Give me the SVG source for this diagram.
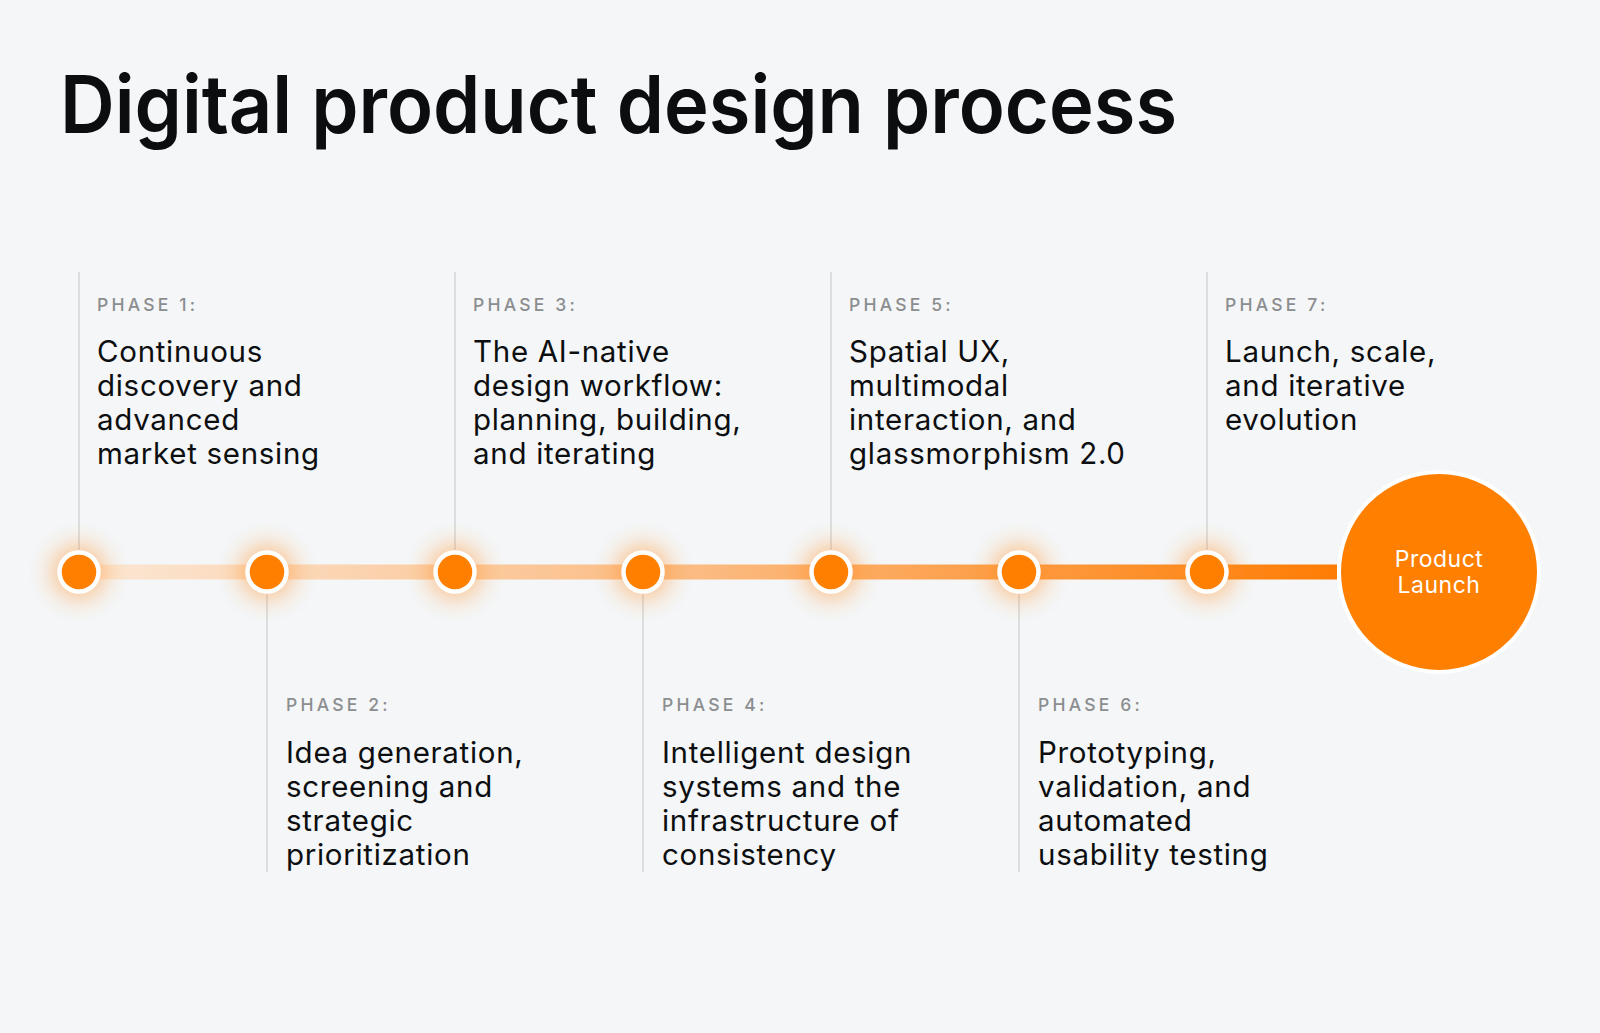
<svg xmlns="http://www.w3.org/2000/svg" width="1600" height="1033" viewBox="0 0 1600 1033">
  <defs>
    <linearGradient id="trackGrad" x1="79" y1="0" x2="1335" y2="0" gradientUnits="userSpaceOnUse">
      <stop offset="0" stop-color="#fbe7d5"/>
      <stop offset="0.5" stop-color="#fbba80"/>
      <stop offset="1" stop-color="#ff7d05"/>
    </linearGradient>
    <filter id="glow" x="-150%" y="-150%" width="400%" height="400%">
      <feGaussianBlur stdDeviation="11"/>
    </filter>
  </defs>
  <style>
    .title { font-family: "Inter", "Liberation Sans", Arial, sans-serif; font-weight: 600; font-size: 80px; fill: #0b0d0f; }
    .label { font-family: "Inter", "Liberation Sans", sans-serif; font-weight: 500; font-size: 17.5px; letter-spacing: 3.2px; fill: #8b8d8f; }
    .body { font-family: "Inter", "Liberation Sans", sans-serif; font-weight: 400; font-size: 29.5px; letter-spacing: 0.7px; fill: #0c0e10; }
    .guide { stroke: #d3d5d7; stroke-width: 1.5; fill: none; }
    .dot { fill: #ff7f00; stroke: #ffffff; stroke-width: 4.5; }
    .halo { fill: #ff8a1a; opacity: 0.45; filter: url(#glow); }
    .launchText { font-family: "Inter", "Liberation Sans", sans-serif; font-weight: 400; font-size: 23px; letter-spacing: 0.5px; fill: #ffffff; text-anchor: middle; }
  </style>

  <rect x="0" y="0" width="1600" height="1033" fill="#f4f6f7"/>

  <text id="title" class="title" x="60" y="133" textLength="1117" lengthAdjust="spacingAndGlyphs">Digital product design process</text>

  <g id="connectors">
    <rect x="79" y="564.5" width="1258" height="15" fill="url(#trackGrad)"/>
    <line class="guide" x1="79" y1="272" x2="79" y2="550"/>
    <line class="guide" x1="455" y1="272" x2="455" y2="550"/>
    <line class="guide" x1="831" y1="272" x2="831" y2="550"/>
    <line class="guide" x1="1207" y1="272" x2="1207" y2="550"/>
    <line class="guide" x1="267" y1="594" x2="267" y2="872"/>
    <line class="guide" x1="643" y1="594" x2="643" y2="872"/>
    <line class="guide" x1="1019" y1="594" x2="1019" y2="872"/>
  </g>

  <g id="phase1">
    <circle class="halo" cx="79" cy="572" r="28"/>
    <circle class="dot" cx="79" cy="572" r="19.5"/>
    <text class="label" x="97" y="311">PHASE 1:</text>
    <text class="body" x="97" y="362">Continuous</text>
    <text class="body" x="97" y="396">discovery and</text>
    <text class="body" x="97" y="430">advanced</text>
    <text class="body" x="97" y="464">market sensing</text>
  </g>

  <g id="phase2">
    <circle class="halo" cx="267" cy="572" r="28"/>
    <circle class="dot" cx="267" cy="572" r="19.5"/>
    <text class="label" x="286" y="711">PHASE 2:</text>
    <text class="body" x="286" y="763">Idea generation,</text>
    <text class="body" x="286" y="797">screening and</text>
    <text class="body" x="286" y="831">strategic</text>
    <text class="body" x="286" y="865">prioritization</text>
  </g>

  <g id="phase3">
    <circle class="halo" cx="455" cy="572" r="28"/>
    <circle class="dot" cx="455" cy="572" r="19.5"/>
    <text class="label" x="473" y="311">PHASE 3:</text>
    <text class="body" x="473" y="362">The AI-native</text>
    <text class="body" x="473" y="396">design workflow:</text>
    <text class="body" x="473" y="430">planning, building,</text>
    <text class="body" x="473" y="464">and iterating</text>
  </g>

  <g id="phase4">
    <circle class="halo" cx="643" cy="572" r="28"/>
    <circle class="dot" cx="643" cy="572" r="19.5"/>
    <text class="label" x="662" y="711">PHASE 4:</text>
    <text class="body" x="662" y="763">Intelligent design</text>
    <text class="body" x="662" y="797">systems and the</text>
    <text class="body" x="662" y="831">infrastructure of</text>
    <text class="body" x="662" y="865">consistency</text>
  </g>

  <g id="phase5">
    <circle class="halo" cx="831" cy="572" r="28"/>
    <circle class="dot" cx="831" cy="572" r="19.5"/>
    <text class="label" x="849" y="311">PHASE 5:</text>
    <text class="body" x="849" y="362">Spatial UX,</text>
    <text class="body" x="849" y="396">multimodal</text>
    <text class="body" x="849" y="430">interaction, and</text>
    <text class="body" x="849" y="464">glassmorphism 2.0</text>
  </g>

  <g id="phase6">
    <circle class="halo" cx="1019" cy="572" r="28"/>
    <circle class="dot" cx="1019" cy="572" r="19.5"/>
    <text class="label" x="1038" y="711">PHASE 6:</text>
    <text class="body" x="1038" y="763">Prototyping,</text>
    <text class="body" x="1038" y="797">validation, and</text>
    <text class="body" x="1038" y="831">automated</text>
    <text class="body" x="1038" y="865">usability testing</text>
  </g>

  <g id="phase7">
    <circle class="halo" cx="1207" cy="572" r="28"/>
    <circle class="dot" cx="1207" cy="572" r="19.5"/>
    <text class="label" x="1225" y="311">PHASE 7:</text>
    <text class="body" x="1225" y="362">Launch, scale,</text>
    <text class="body" x="1225" y="396">and iterative</text>
    <text class="body" x="1225" y="430">evolution</text>
  </g>

  <g id="launch">
    <circle cx="1439" cy="572" r="100" fill="#ff7f00" stroke="#ffffff" stroke-width="4"/>
    <text class="launchText" x="1439" y="567">Product</text>
    <text class="launchText" x="1439" y="593">Launch</text>
  </g>
</svg>
